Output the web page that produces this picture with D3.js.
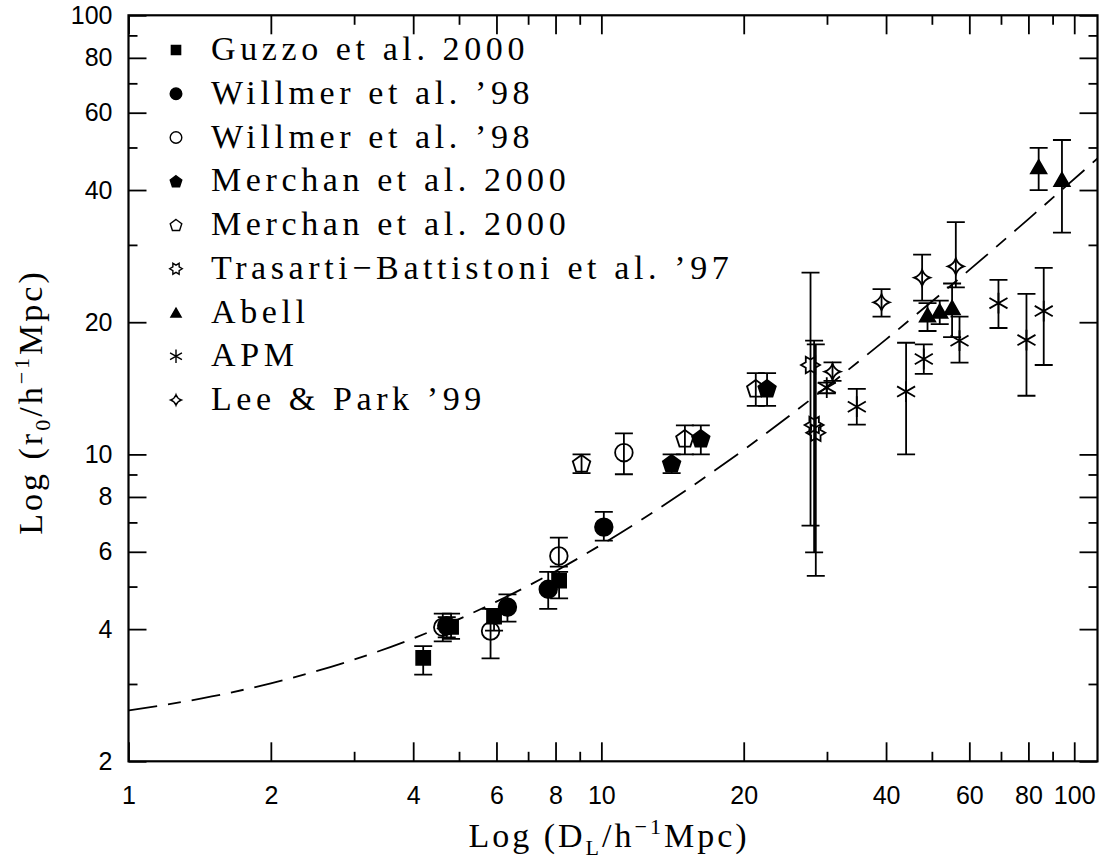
<!DOCTYPE html>
<html>
<head>
<meta charset="utf-8">
<script src="https://cdn.jsdelivr.net/npm/d3@7"></script>
<style>
  body { margin: 0; background: #fff; }
  svg { display: block; }
</style>
</head>
<body>
<div id="chart"></div>
<script>
// ---- data (D_L in h^-1 Mpc, r0 in h^-1 Mpc) ----
let guzzoD  = [4.20, 4.81, 5.93, 8.14]
let guzzoR  = [3.44, 4.05, 4.27, 5.16]
let guzzoLo = [3.15, 3.80, 3.97, 4.70]
let guzzoHi = [3.66, 4.34, 4.45, 5.40]

let willFD  = [4.71, 6.33, 7.72, 10.12]
let willFR  = [4.07, 4.49, 4.93, 6.83]
let willFLo = [3.83, 4.16, 4.45, 6.36]
let willFHi = [4.26, 4.80, 5.40, 7.40]

let willOD  = [4.62, 5.83, 8.13, 11.16]
let willOR  = [4.04, 3.96, 5.87, 10.09]
let willOLo = [3.75, 3.43, 5.55, 9.01]
let willOHi = [4.34, 4.45, 6.46, 11.17]

let merFD  = [14.08, 16.23, 22.41]
let merFR  = [9.54, 10.88, 14.14]
let merFLo = [9.06, 10.0, 12.9]
let merFHi = [10.0, 11.64, 15.31]

let merOD  = [9.08, 15.02, 21.21]
let merOR  = [9.54, 10.88, 14.14]
let merOLo = [9.06, 10.0, 12.9]
let merOHi = [10.0, 11.64, 15.31]

let trasD  = [27.69, 28.18, 28.41]
let trasR  = [15.98, 11.67, 11.20]
let trasLo = [6.88, 5.98, 5.29]
let trasHi = [25.94, 18.15, 17.8]

let abellD  = [48.95, 51.95, 55.17, 84.1, 94.2]
let abellR  = [20.78, 21.2, 21.6, 45.2, 42.3]
let abellLo = [19.1, 19.8, 18.5, 40.0, 32.0]
let abellHi = [22.1, 22.4, 24.5, 49.9, 52.0]

let apmD  = [29.97, 34.69, 44.1, 48.07, 57.2, 69.15, 79.25, 86.2]
let apmR  = [14.19, 12.84, 13.9, 16.49, 18.15, 22.1, 18.21, 21.2]
let apmLo = [13.78, 11.69, 10.0, 15.26, 16.18, 19.4, 13.6, 15.98]
let apmHi = [14.57, 14.1, 17.96, 17.8, 20.6, 24.97, 23.2, 26.6]

let leeD  = [30.82, 39.13, 47.68, 56.18]
let leeR  = [15.43, 22.2, 25.26, 26.8]
let leeLo = [14.7, 20.6, 22.4, 24.0]
let leeHi = [16.2, 23.8, 28.5, 33.8]

// dashed model curve
let fitD = [1, 1.5, 2, 3, 4, 6, 8, 10, 15, 20, 30, 40, 60, 80, 112]
let fitR = [2.61, 2.81, 3.01, 3.41, 3.81, 4.62, 5.42, 6.23, 8.24, 10.24, 14.26, 18.28, 26.31, 34.35, 47.2]

let legendLabels = ['Guzzo et al. 2000', 'Willmer et al. ’98', 'Willmer et al. ’98',
  'Merchan et al. 2000', 'Merchan et al. 2000', 'Trasarti−Battistoni et al. ’97',
  'Abell', 'APM', 'Lee & Park ’99']

let xMajor = [1, 2, 4, 6, 8, 10, 20, 40, 60, 80, 100]
let xMinor = [3, 5, 7, 9, 30, 50, 70, 90]
let yMajor = [2, 4, 6, 8, 10, 20, 40, 60, 80, 100]
let yMinor = [3, 5, 7, 9, 30, 50, 70, 90]

// ---- layout ----
let W = 1099, H = 861
let pL = 128.5, pR = 1097.5, pT = 15.3, pB = 761.3
let lw = 1.8

let x = d3.scaleLog().domain([1, 112]).range([pL, pR])
let y = d3.scaleLog().domain([2, 100]).range([pB, pT])

// marks: type, filled; built into one table with the arrays above
let series = [
  {mark: 'circle',   fill: false, D: willOD, R: willOR, lo: willOLo, hi: willOHi},
  {mark: 'pentagon', fill: false, D: merOD,  R: merOR,  lo: merOLo,  hi: merOHi},
  {mark: 'hexagram', fill: false, D: trasD,  R: trasR,  lo: trasLo,  hi: trasHi},
  {mark: 'star4',    fill: false, D: leeD,   R: leeR,   lo: leeLo,   hi: leeHi},
  {mark: 'square',   fill: true,  D: guzzoD, R: guzzoR, lo: guzzoLo, hi: guzzoHi},
  {mark: 'circle',   fill: true,  D: willFD, R: willFR, lo: willFLo, hi: willFHi},
  {mark: 'pentagon', fill: true,  D: merFD,  R: merFR,  lo: merFLo,  hi: merFHi},
  {mark: 'triangle', fill: true,  D: abellD, R: abellR, lo: abellLo, hi: abellHi},
  {mark: 'asterisk', fill: false, D: apmD,   R: apmR,   lo: apmLo,   hi: apmHi}
]
let legendMarks = [['square', true], ['circle', true], ['circle', false], ['pentagon', true],
  ['pentagon', false], ['hexagram', false], ['triangle', true], ['asterisk', false], ['star4', false]]

function markPath(type, k) {
  let p = d3.path()
  if (type === 'square') {
    let s = 14 * k
    p.rect(-s / 2, -s / 2, s, s)
  } else if (type === 'circle') {
    let r = 8.8 * k
    p.moveTo(r, 0); p.arc(0, 0, r, 0, 2 * Math.PI); p.closePath()
  } else if (type === 'pentagon') {
    let r = 9.2 * k
    for (let i = 0; i < 5; i++) {
      let a = -Math.PI / 2 + i * 2 * Math.PI / 5
      i ? p.lineTo(r * Math.cos(a), r * Math.sin(a) + 0.8 * k) : p.moveTo(r * Math.cos(a), r * Math.sin(a) + 0.8 * k)
    }
    p.closePath()
  } else if (type === 'triangle') {
    let s = 15.5 * k, h = s * Math.sqrt(3) / 2
    p.moveTo(0, -h / 2); p.lineTo(s / 2, h / 2); p.lineTo(-s / 2, h / 2); p.closePath()
  } else if (type === 'hexagram') {
    let R = 9.5 * k, r = R / Math.sqrt(3)
    for (let i = 0; i < 12; i++) {
      let a = i * Math.PI / 6, rr = i % 2 ? r : R
      i ? p.lineTo(rr * Math.cos(a), rr * Math.sin(a)) : p.moveTo(rr * Math.cos(a), rr * Math.sin(a))
    }
    p.closePath()
  } else if (type === 'star4') {
    let R = 8 * k, c = 0.26 * R
    p.moveTo(0, -R)
    p.quadraticCurveTo(c, -c, R, 0)
    p.quadraticCurveTo(c, c, 0, R)
    p.quadraticCurveTo(-c, c, -R, 0)
    p.quadraticCurveTo(-c, -c, 0, -R)
    p.closePath()
  } else if (type === 'asterisk') {
    let R = 10.4 * k
    for (let i = 0; i < 3; i++) {
      let a = Math.PI / 2 + i * Math.PI / 3
      p.moveTo(R * Math.cos(a), R * Math.sin(a))
      p.lineTo(-R * Math.cos(a), -R * Math.sin(a))
    }
  }
  return p.toString()
}

let svg = d3.select('#chart').append('svg')
  .attr('width', W).attr('height', H)
  .attr('viewBox', `0 0 ${W} ${H}`)

svg.append('defs').append('clipPath').attr('id', 'plotclip')
  .append('rect')
  .attr('x', pL).attr('y', pT)
  .attr('width', pR - pL).attr('height', pB - pT)

// ---- ticks (inward, all four sides) ----
function tickText(g) {
  g.select('.domain').remove()
  g.selectAll('line').attr('stroke', '#000').attr('stroke-width', lw)
  g.selectAll('text')
    .attr('font-family', '"Liberation Sans", Arial, Helvetica, sans-serif')
    .attr('font-size', 25)
    .attr('fill', '#000')
}

svg.append('g').attr('transform', `translate(0,${pB})`)
  .call(d3.axisBottom(x).tickValues(xMajor).tickSize(-19).tickSizeOuter(0).tickPadding(25).tickFormat(d => d))
  .call(tickText)
svg.append('g').attr('transform', `translate(0,${pB})`)
  .call(d3.axisBottom(x).tickValues(xMinor).tickSize(-9.5).tickSizeOuter(0).tickFormat(''))
  .call(tickText)
svg.append('g').attr('transform', `translate(0,${pT})`)
  .call(d3.axisTop(x).tickValues(xMajor).tickSize(-19).tickSizeOuter(0).tickFormat(''))
  .call(tickText)
svg.append('g').attr('transform', `translate(0,${pT})`)
  .call(d3.axisTop(x).tickValues(xMinor).tickSize(-9.5).tickSizeOuter(0).tickFormat(''))
  .call(tickText)

svg.append('g').attr('transform', `translate(${pL},0)`)
  .call(d3.axisLeft(y).tickValues(yMajor).tickSize(-18).tickSizeOuter(0).tickPadding(16).tickFormat(d => d))
  .call(tickText)
svg.append('g').attr('transform', `translate(${pL},0)`)
  .call(d3.axisLeft(y).tickValues(yMinor).tickSize(-9).tickSizeOuter(0).tickFormat(''))
  .call(tickText)
svg.append('g').attr('transform', `translate(${pR},0)`)
  .call(d3.axisRight(y).tickValues(yMajor).tickSize(-18).tickSizeOuter(0).tickFormat(''))
  .call(tickText)
svg.append('g').attr('transform', `translate(${pR},0)`)
  .call(d3.axisRight(y).tickValues(yMinor).tickSize(-9).tickSizeOuter(0).tickFormat(''))
  .call(tickText)

// frame
svg.append('rect')
  .attr('x', pL).attr('y', pT)
  .attr('width', pR - pL).attr('height', pB - pT)
  .attr('fill', 'none').attr('stroke', '#000').attr('stroke-width', 2.2)

// ---- dashed curve ----
let fit = fitD.map((d, i) => [d, fitR[i]])
svg.append('path')
  .datum(fit)
  .attr('clip-path', 'url(#plotclip)')
  .attr('fill', 'none')
  .attr('stroke', '#000')
  .attr('stroke-width', lw)
  .attr('stroke-dasharray', '29,11,13,11')
  .attr('d', d3.line().x(d => x(d[0])).y(d => y(d[1])).curve(d3.curveMonotoneX))

// ---- error bars ----
let cap = 9
let errG = svg.append('g').attr('stroke', '#000').attr('stroke-width', lw).attr('fill', 'none')
series.forEach(s => {
  let pts = s.D.map((d, i) => ({d: d, lo: s.lo[i], hi: s.hi[i]}))
  errG.append('g').selectAll('path').data(pts).enter()
    .append('path')
    .attr('d', p => {
      let px = x(p.d), y1 = y(p.hi), y2 = y(p.lo)
      return `M${px},${y1}V${y2}M${px - cap},${y1}H${px + cap}M${px - cap},${y2}H${px + cap}`
    })
})

// ---- markers ----
let markG = svg.append('g')
series.forEach(s => {
  markG.append('g').selectAll('path')
    .data(s.D.map((d, i) => [d, s.R[i]]))
    .enter()
    .append('path')
    .attr('transform', p => `translate(${x(p[0])},${y(p[1])})`)
    .attr('d', markPath(s.mark, 1))
    .attr('fill', s.fill ? '#000' : 'none')
    .attr('stroke', '#000')
    .attr('stroke-width', lw)
})

// ---- legend ----
let serif = '"Liberation Serif", "Times New Roman", serif'
let leg = svg.append('g').selectAll('g')
  .data(legendLabels)
  .enter()
  .append('g')
  .attr('transform', (d, i) => `translate(0,${60 + 43.75 * i})`)

leg.append('path')
  .attr('transform', 'translate(176,-10)')
  .attr('d', (d, i) => markPath(legendMarks[i][0], 0.66))
  .attr('fill', (d, i) => legendMarks[i][1] ? '#000' : 'none')
  .attr('stroke', '#000')
  .attr('stroke-width', 1.4)

leg.append('text')
  .attr('x', 211)
  .attr('y', 0)
  .attr('font-family', serif)
  .attr('font-size', 34)
  .attr('letter-spacing', 4.6)
  .attr('fill', '#000')
  .text(d => d)

// ---- axis titles ----
function title(t, main, sub) {
  t.attr('font-family', serif).attr('font-size', 34).attr('letter-spacing', 3)
    .attr('text-anchor', 'middle').attr('fill', '#000')
  t.append('tspan').text('Log (' + main)
  t.append('tspan').attr('font-size', 22).attr('dy', 8).text(sub)
  t.append('tspan').attr('dy', -8).text('/h')
  t.append('tspan').attr('font-size', 22).attr('dy', -13).text('−1')
  t.append('tspan').attr('dy', 13).text('Mpc)')
}

svg.append('text')
  .attr('x', 609).attr('y', 847)
  .call(title, 'D', 'L')

svg.append('text')
  .attr('transform', 'translate(42,402) rotate(-90)')
  .call(title, 'r', '0')
</script>
</body>
</html>
